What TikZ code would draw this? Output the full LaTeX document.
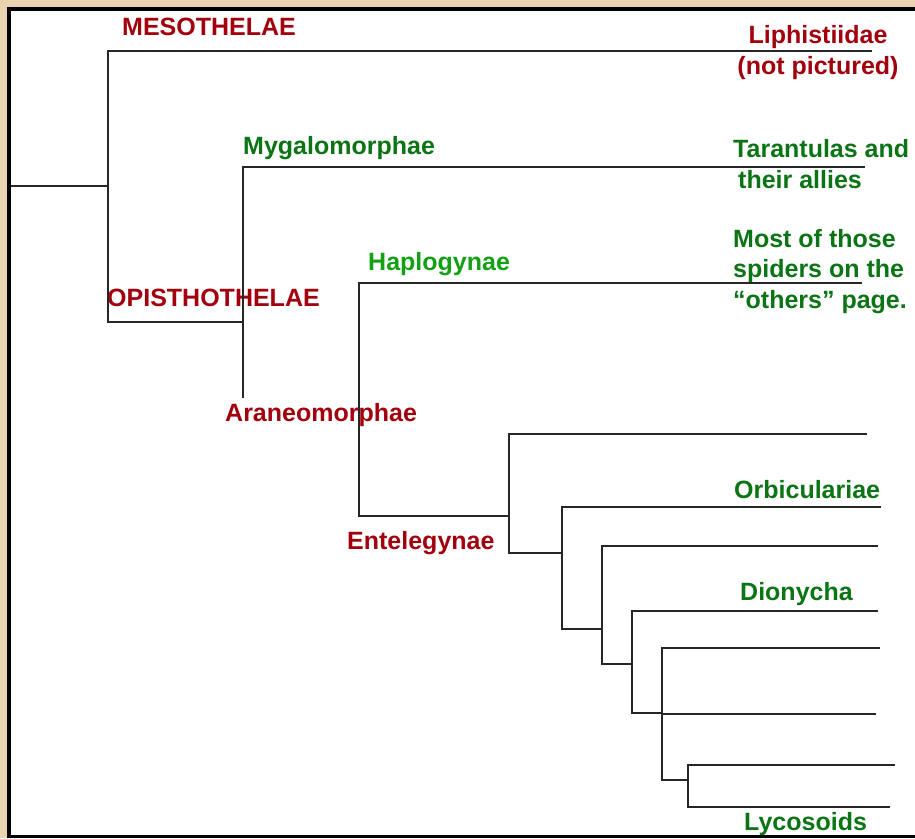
\documentclass[tikz,border=0pt]{standalone}
\usepackage{fontspec}
\setmainfont{Liberation Sans}
\definecolor{tan}{HTML}{EAD4AF}
\definecolor{cladered}{HTML}{A3000E}
\definecolor{darkgrn}{HTML}{0B7414}
\definecolor{litegrn}{HTML}{12A014}
\begin{document}
\begin{tikzpicture}[x=1pt,y=-1pt,
  branch/.style={line width=1.8pt,draw=black!85},
  lbl/.style={inner sep=0pt,anchor=base west,font=\fontsize{25}{30.5}\selectfont\bfseries},
  redlbl/.style={lbl,text=cladered},
  grnlbl/.style={lbl,text=darkgrn},
  hgrnlbl/.style={lbl,text=litegrn}]
\useasboundingbox (0,0) rectangle (915,838);
\fill[tan] (0,0) rectangle (915,838);
\fill[black] (7,7) rectangle (915,838);
\fill[white] (11,11) rectangle (915,835);

% labels
\node[redlbl] (meso) at (122,35) {MESOTHELAE};
\node[redlbl,anchor=base,align=center] (liph) at (818,74) {Liphistiidae\\(not pictured)};
\node[grnlbl] (myga) at (243,154) {Mygalomorphae};
\node[grnlbl,align=left] (tara) at (733,188) {Tarantulas and\\\hspace*{5pt}their allies};
\node[hgrnlbl] (hapl) at (368,270) {Haplogynae};
\node[grnlbl,align=left] (most) at (733,308) {Most of those\\spiders on the\\“others” page.};
\node[redlbl] (opis) at (107,306) {OPISTHOTHELAE};
\node[redlbl] (aran) at (225,421) {Araneomorphae};
\node[redlbl] (ente) at (347,549) {Entelegynae};
\node[grnlbl] (orbi) at (734,498) {Orbiculariae};
\node[grnlbl] (dion) at (740,600) {Dionycha};
\node[grnlbl] (lyco) at (744,830) {Lycosoids};

% junction coordinates
\coordinate (r0) at (11,186);
\coordinate (a1) at (108,186);
\coordinate (a1t) at (108,51);
\coordinate (a1b) at (108,322);
\coordinate (t1) at (872,51);
\coordinate (a2b) at (243,322);
\coordinate (a2t) at (243,167);
\coordinate (a2e) at (243,398);
\coordinate (t2) at (865,167);
\coordinate (a3t) at (359,283);
\coordinate (a3b) at (359,516);
\coordinate (t3) at (862,283);
\coordinate (a4) at (509,516);
\coordinate (a4t) at (509,434);
\coordinate (a4b) at (509,553);
\coordinate (t4) at (867,434);
\coordinate (a5b) at (562,553);
\coordinate (a5t) at (562,507);
\coordinate (a5e) at (562,629);
\coordinate (t5) at (881,507);
\coordinate (a6b) at (602,629);
\coordinate (a6t) at (602,546);
\coordinate (a6e) at (602,664);
\coordinate (t6) at (878,546);
\coordinate (a7b) at (632,664);
\coordinate (a7t) at (632,611);
\coordinate (a7e) at (632,713);
\coordinate (t7) at (878,611);
\coordinate (a8b) at (662,713);
\coordinate (a8t) at (662,648);
\coordinate (a8e) at (662,780);
\coordinate (a8m) at (662,714);
\coordinate (t8) at (880,648);
\coordinate (t9) at (876,714);
\coordinate (a9b) at (688,780);
\coordinate (a9t) at (688,765);
\coordinate (a9e) at (688,807);
\coordinate (t10) at (895,765);
\coordinate (t11) at (890,807);

% branches
\draw[branch] (r0) -- (a1);
\draw[branch] (t1) -- (a1t) -- (a1b) -- (a2b);
\draw[branch] (t2) -- (a2t) -- (a2e);
\draw[branch] (t3) -- (a3t) -- (a3b) -- (a4);
\draw[branch] (t4) -- (a4t) -- (a4b) -- (a5b);
\draw[branch] (t5) -- (a5t) -- (a5e) -- (a6b);
\draw[branch] (t6) -- (a6t) -- (a6e) -- (a7b);
\draw[branch] (t7) -- (a7t) -- (a7e) -- (a8b);
\draw[branch] (t8) -- (a8t) -- (a8e) -- (a9b);
\draw[branch] (a8m) -- (t9);
\draw[branch] (t10) -- (a9t) -- (a9e) -- (t11);
\end{tikzpicture}
\end{document}
